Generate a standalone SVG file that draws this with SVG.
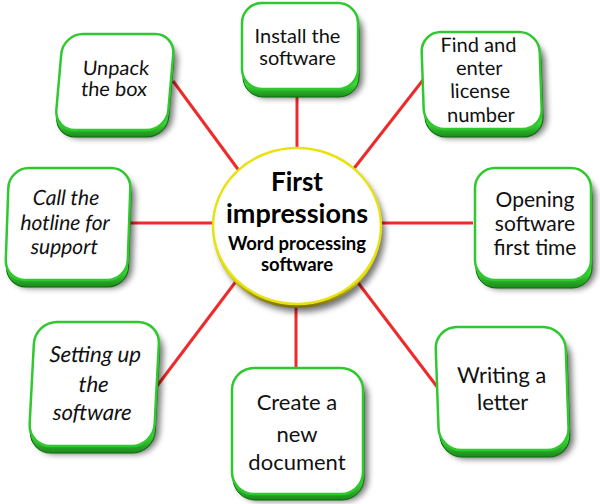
<svg xmlns="http://www.w3.org/2000/svg" width="600" height="504" viewBox="0 0 600 504">
<defs>
  <filter id="sh" x="-20%" y="-20%" width="140%" height="140%">
    <feGaussianBlur stdDeviation="3"/>
  </filter>
  <linearGradient id="bev" x1="0" y1="0" x2="0" y2="1">
    <stop offset="0" stop-color="#1f9a1f"/>
    <stop offset="0.85" stop-color="#3fd83a"/>
    <stop offset="1" stop-color="#1a8a1a"/>
  </linearGradient>
  <linearGradient id="ybev" x1="0" y1="0" x2="0" y2="1">
    <stop offset="0" stop-color="#8a8000"/>
    <stop offset="0.8" stop-color="#d8d020"/>
    <stop offset="1" stop-color="#7a7000"/>
  </linearGradient>
  <style>
    .shadow{fill:#000;opacity:0.55;filter:url(#sh)}
    .bevel{fill:url(#bev);stroke:#0c6a0c;stroke-width:1}
    .face{fill:#fff;stroke:#2fc92f;stroke-width:2.5}
    .t{font-family:Lato,"Liberation Sans",sans-serif;font-size:20px;fill:#111;text-anchor:middle}
    .big{font-size:22px}
    .mid{font-size:21px}
    .it{font-style:italic}
    .c{font-family:Lato,"Liberation Sans",sans-serif;font-weight:bold;fill:#000;text-anchor:middle}
    .ln{stroke:#ee2a2a;stroke-width:3;fill:none}
  </style>
</defs>
<rect width="600" height="504" fill="#fff"/>

<g id="connectors">
  <line class="ln" x1="173" y1="81" x2="240" y2="172"/>
  <line class="ln" x1="297" y1="96" x2="297" y2="150"/>
  <line class="ln" x1="423" y1="80" x2="352" y2="171"/>
  <line class="ln" x1="380" y1="223" x2="473" y2="223"/>
  <line class="ln" x1="356" y1="280" x2="438" y2="388"/>
  <line class="ln" x1="296" y1="304" x2="296" y2="369"/>
  <line class="ln" x1="237" y1="280" x2="157" y2="386"/>
  <line class="ln" x1="128" y1="223" x2="214" y2="223"/>
</g>

<g id="center">
  <ellipse cx="301" cy="233" rx="84" ry="79" class="shadow"/>
  <ellipse cx="297" cy="230" rx="84" ry="78" fill="url(#ybev)"/>
  <ellipse cx="297" cy="226" rx="84" ry="78" fill="#fff" stroke="#e8e210" stroke-width="2.5"/>
  <text class="c" x="297" y="191" font-size="26">First</text>
  <text class="c" x="297" y="223" font-size="27">impressions</text>
  <text class="c" x="297" y="250" font-size="18.5">Word processing</text>
  <text class="c" x="297" y="271" font-size="18.5">software</text>
</g>

<g id="n-unpack" transform="translate(63,34) skewX(-5)">
  <rect class="shadow" x="5" y="8" width="112" height="96" rx="20"/>
  <rect class="bevel" x="1" y="7" width="112" height="96" rx="20"/>
  <rect class="face" width="112" height="96" rx="20"/>
  <text class="t" x="56" y="41">Unpack</text>
  <text class="t" x="56" y="62">the box</text>
</g>

<g id="n-install" transform="translate(242,3)">
  <rect class="shadow" x="5" y="9" width="116" height="86" rx="20"/>
  <rect class="bevel" x="1" y="8" width="116" height="86" rx="20"/>
  <rect class="face" width="116" height="86" rx="20"/>
  <text class="t" x="55.5" y="40">Install the</text>
  <text class="t" x="55.5" y="62">software</text>
</g>

<g id="n-find" transform="translate(421,32) skewX(2)">
  <rect class="shadow" x="5" y="9" width="118" height="97" rx="20"/>
  <rect class="bevel" x="1" y="8" width="118" height="97" rx="20"/>
  <rect class="face" width="118" height="97" rx="20"/>
  <text class="t" x="57" y="20">Find and</text>
  <text class="t" x="57" y="43">enter</text>
  <text class="t" x="57" y="66">license</text>
  <text class="t" x="57" y="90">number</text>
</g>

<g id="n-opening" transform="translate(475,168)">
  <rect class="shadow" x="5" y="9" width="116" height="112" rx="20"/>
  <rect class="bevel" x="1" y="8" width="116" height="112" rx="20"/>
  <rect class="face" width="116" height="112" rx="20"/>
  <text class="t mid" x="60" y="39">Opening</text>
  <text class="t mid" x="60" y="63">software</text>
  <text class="t mid" x="60" y="87">first time</text>
</g>

<g id="n-writing" transform="translate(435,327) skewX(2)">
  <rect class="shadow" x="5" y="9" width="130" height="123" rx="22"/>
  <rect class="bevel" x="1" y="7" width="130" height="123" rx="22"/>
  <rect class="face" width="130" height="123" rx="22"/>
  <text class="t big" x="65" y="56">Writing a</text>
  <text class="t big" x="65" y="83">letter</text>
</g>

<g id="n-create" transform="translate(232,368)">
  <rect class="shadow" x="5" y="7" width="131" height="126" rx="22"/>
  <rect class="bevel" x="1" y="6" width="131" height="126" rx="22"/>
  <rect class="face" width="131" height="126" rx="22"/>
  <text class="t big" x="65" y="42">Create a</text>
  <text class="t big" x="65" y="74">new</text>
  <text class="t big" x="65" y="102">document</text>
</g>

<g id="n-setting" transform="translate(35,322) skewX(-3)">
  <rect class="shadow" x="5" y="8" width="125" height="124" rx="22"/>
  <rect class="bevel" x="1" y="7" width="125" height="124" rx="22"/>
  <rect class="face" width="125" height="124" rx="22"/>
  <text class="t big it" x="62" y="40">Setting up</text>
  <text class="t big it" x="62" y="70">the</text>
  <text class="t big it" x="62" y="98">software</text>
</g>

<g id="n-call" transform="translate(9,168) skewX(-2)">
  <rect class="shadow" x="5" y="8" width="122" height="112" rx="20"/>
  <rect class="bevel" x="1" y="7" width="122" height="112" rx="20"/>
  <rect class="face" width="122" height="112" rx="20"/>
  <text class="t mid it" x="58" y="37">Call the</text>
  <text class="t mid it" x="58" y="62">hotline for</text>
  <text class="t mid it" x="58" y="86">support</text>
</g>
</svg>
